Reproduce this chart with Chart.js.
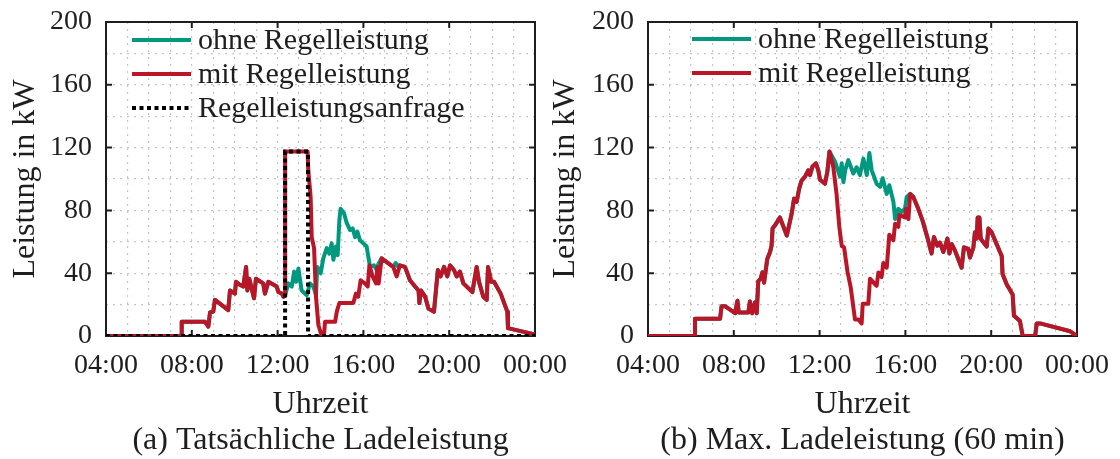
<!DOCTYPE html>
<html>
<head>
<meta charset="utf-8">
<script src="https://cdn.jsdelivr.net/npm/chart.js@4"></script>
<style>
  html, body { margin: 0; padding: 0; background: #fff; }
  #wrap { position: relative; width: 1120px; height: 459px; }
  #wrap canvas { position: absolute; left: 0; top: 0; }
</style>
</head>
<body>
<div id="wrap">
  <canvas id="chart-a" width="1120" height="459"></canvas>
  <canvas id="chart-b" width="1120" height="459"></canvas>
</div>
<script>
// axes
const hourTicks = [4, 8, 12, 16, 20, 24];
const timeLabels = ['04:00', '08:00', '12:00', '16:00', '20:00', '00:00'];
const kwTicks = [0, 40, 80, 120, 160, 200];
const legendLabels = ['ohne Regelleistung', 'mit Regelleistung', 'Regelleistungsanfrage'];

// (a) Tatsächliche Ladeleistung -- time in hours, power in kW
const aMitT = [4, 7.53, 7.53, 8.62, 8.77, 8.85, 9.0, 9.08, 9.7, 9.78, 10.01, 10.06, 10.2, 10.4, 10.53, 10.59, 10.68, 10.9, 10.99,
  11.33, 11.41, 11.57, 11.96, 12.04, 12.2, 12.27, 12.35, 12.35, 13.4, 13.43, 13.54, 13.59, 13.7, 13.79, 13.9, 14.06, 14.16,
  14.21, 14.68, 14.76, 14.88, 15.53, 15.65, 15.76, 15.87, 16.07, 16.2, 16.28, 16.43, 16.59, 16.65, 16.71, 16.85, 17.39, 17.55,
  17.7, 17.94, 18.17, 18.41, 18.57, 18.61, 18.68, 18.88, 19.03, 19.29, 19.47, 19.6, 19.76, 19.91, 20.04, 20.22, 20.35, 20.5,
  20.66, 21.08, 21.28, 21.39, 21.59, 21.75, 21.81, 21.96, 22.09, 22.4, 22.71, 22.74, 24];
const aMitP = [0, 0, 9, 9, 6, 15, 15.5, 23, 16.5, 29, 27, 34.5, 33, 31.5, 44, 29, 36.5, 24, 36.5,
  33.5, 27, 34.5, 31.5, 28, 27, 25, 26, 117.5, 117.5, 105.5, 88.5, 63, 56, 25, 7, 0, 0,
  9, 9, 15.5, 21, 21, 27, 25, 35.5, 33.5, 31.5, 45, 38, 33.5, 44, 33.5, 49.5, 44, 38,
  45, 44, 35.5, 31.5, 29, 21, 29, 25, 17.5, 15.5, 42, 38, 44, 38, 45, 42, 38, 41,
  33.5, 28, 44, 34.5, 25, 23, 44, 34.5, 34.5, 27, 15.5, 5, 1];
// ohne Regelleistung: only where it leaves the red curve, identical elsewhere
const aOhneT = [12.35, 12.5, 12.66, 12.77, 12.86, 12.97, 13.12, 13.36, 13.51, 13.67, 13.79, 13.85, 14.01, 14.13, 14.29, 14.41,
  14.52, 14.6, 14.72, 14.8, 14.88, 14.94, 15.1, 15.22, 15.38, 15.5, 15.61, 15.72, 15.84, 16.0, 16.15, 16.23, 16.31, 16.49,
  16.62, 16.7, 16.85, 17.39, 17.5, 17.6, 17.7];
const aOhneP = [26, 33.5, 31.5, 41, 34.5, 43, 29, 26, 33.5, 31.5, 26, 44, 40, 49.5, 56, 52.5,
  59, 48.5, 57, 51.5, 74, 81, 78, 72, 67.5, 68.5, 63, 66.5, 61, 59, 57, 50.5, 44, 45,
  42, 46, 49.5, 44, 46.5, 44.5, 45];
const aAnfrageT = [4, 12.35, 12.35, 13.42, 13.42, 24];
const aAnfrageP = [0, 0, 117.5, 117.5, 0, 0];

// (b) Max. Ladeleistung (60 min)
const bMitT = [4, 6.19, 6.19, 7.36, 7.43, 7.59, 8.06, 8.17, 8.23, 8.68, 8.75, 8.86, 8.99, 9.07, 9.14, 9.25, 9.33, 9.41, 9.56,
  9.69, 9.76, 9.81, 9.92, 10.15, 10.47, 10.7, 10.81, 10.93, 11.05, 11.16, 11.32, 11.47, 11.55, 11.67, 11.83, 11.94, 12.02,
  12.25, 12.36, 12.46, 12.64, 12.79, 12.92, 13.03, 13.14, 13.3, 13.45, 13.65, 13.81, 13.96, 14.01, 14.27, 14.35, 14.58,
  14.66, 14.74, 14.89, 14.97, 15.13, 15.25, 15.44, 15.52, 15.67, 15.72, 15.98, 16.03, 16.14, 16.22, 16.37, 16.6, 16.8,
  17.02, 17.22, 17.33, 17.49, 17.61, 17.77, 17.96, 18.05, 18.16, 18.31, 18.62, 18.73, 18.93, 19.01, 19.17, 19.24, 19.32,
  19.37, 19.45, 19.51, 19.79, 19.87, 20.02, 20.49, 20.53, 20.72, 21.0, 21.06, 21.34, 21.47, 22.05, 22.12, 22.28, 23.68, 24];
const bMitP = [0, 0, 11, 11, 19, 19, 14.5, 22.5, 15, 15, 22, 14.5, 21.5, 14.5, 35, 36.5, 40.5, 34, 49,
  53.5, 57.5, 68.5, 70.5, 75.5, 64, 78, 87.5, 85.5, 94, 99, 101.5, 105.5, 102.5, 108, 110, 105.5, 99.5,
  97, 104.5, 117.5, 107.5, 90.5, 69.5, 57.5, 56.5, 41, 31, 10.5, 10.5, 8, 20.5, 20.5, 36.5, 33,
  32, 40.5, 37.5, 46.5, 43.5, 64.5, 61, 71.5, 69.5, 77, 75.5, 81, 74.5, 90.5, 88.5, 81, 73.5,
  63, 52.5, 63, 57.5, 59.5, 53.5, 62, 52.5, 58.5, 54.5, 43.5, 56.5, 55.5, 50, 56.5, 66, 62,
  75.5, 75.5, 62, 57, 68.5, 66, 51, 39.5, 33, 26.5, 13, 9.5, 0, 0, 8, 8, 3, 0];
const bOhneT = [12.46, 12.72, 12.95, 13.03, 13.11, 13.2, 13.34, 13.45, 13.57, 13.73, 13.88, 14.04, 14.2, 14.32, 14.43, 14.66,
  14.82, 14.94, 15.13, 15.25, 15.44, 15.52, 15.67, 15.82, 15.98, 16.06, 16.22];
const bOhneP = [117.5, 111, 101.5, 110, 98, 106, 112, 108, 103.5, 107.5, 102.5, 113, 102.5, 116.5, 105.5, 97,
  95, 100.5, 90.5, 96, 85.5, 74.5, 81, 79, 81, 88.5, 90.5];

const serif = "'Liberation Serif', 'Times New Roman', serif";
const ink = '#1e1e1e';
const teal = '#00997f';
const red = '#bb1628';
const gridHours = Array.from({length: 21}, (_, i) => 4 + i);
const gridKw = Array.from({length: 11}, (_, i) => i * 20);

function pts(t, p) {
  return t.map((x, i) => ({x: x, y: p[i]}));
}

// red curve before and after the deviating stretch, deviating stretch in between
function ohneCurve(mitT, mitP, devT, devP) {
  const a = devT[0], b = devT[devT.length - 1];
  const head = pts(mitT, mitP).filter(q => q.x < a);
  const tail = pts(mitT, mitP).filter(q => q.x > b);
  return head.concat(pts(devT, devP), tail);
}

const boxPlugin = {
  id: 'box',
  beforeDatasetsDraw(chart) {
    const {ctx, chartArea: a} = chart;
    const x = chart.scales.x, y = chart.scales.y;
    ctx.save();
    ctx.strokeStyle = ink;
    ctx.lineWidth = 2;
    ctx.strokeRect(a.left, a.top, a.right - a.left, a.bottom - a.top);
    ctx.beginPath();
    hourTicks.forEach(h => {
      const px = x.getPixelForValue(h);
      ctx.moveTo(px, a.bottom); ctx.lineTo(px, a.bottom - 6);
      ctx.moveTo(px, a.top); ctx.lineTo(px, a.top + 6);
    });
    kwTicks.forEach(v => {
      const py = y.getPixelForValue(v);
      ctx.moveTo(a.left, py); ctx.lineTo(a.left + 6, py);
      ctx.moveTo(a.right, py); ctx.lineTo(a.right - 6, py);
    });
    ctx.stroke();
    ctx.restore();
  },
  afterDraw(chart, args, opts) {
    const {ctx, chartArea: a} = chart;
    ctx.save();
    ctx.font = '30px ' + serif;
    ctx.textBaseline = 'middle';
    ctx.fillStyle = ink;
    chart.data.datasets.forEach((ds, i) => {
      const ly = a.top + opts.top + i * opts.gap;
      const lx = a.left + opts.left;
      ctx.beginPath();
      ctx.strokeStyle = ds.borderColor;
      ctx.lineWidth = ds.borderWidth;
      ctx.setLineDash(ds.borderDash || []);
      ctx.moveTo(lx, ly); ctx.lineTo(lx + 59, ly);
      ctx.stroke();
      ctx.fillText(ds.label, lx + 66, ly + 1);
    });
    ctx.restore();
  }
};

function makeChart(id, datasets, pad, legendPos, caption) {
  return new Chart(document.getElementById(id), {
    type: 'line',
    data: {datasets: datasets},
    options: {
      responsive: false,
      animation: false,
      devicePixelRatio: 1,
      layout: {padding: {left: pad[0], right: pad[1], top: 22, bottom: 0}},
      elements: {point: {radius: 0}, line: {tension: 0, borderJoinStyle: 'round'}},
      plugins: {legend: {display: false}, tooltip: {enabled: false}, box: legendPos},
      scales: {
        x: {
          type: 'linear', min: 4, max: 24,
          afterFit(s) { s.height = 123; s.paddingLeft = 0; s.paddingRight = 0; },
          afterBuildTicks(s) { s.ticks = gridHours.map(v => ({value: v})); },
          ticks: {
            autoSkip: false, maxRotation: 0, padding: 13, color: ink,
            font: {family: serif, size: 28},
            callback: v => { const k = hourTicks.indexOf(v); return k >= 0 ? timeLabels[k] : ''; }
          },
          grid: {color: '#c6c6c6', lineWidth: 1.2, drawTicks: false},
          border: {display: false, dash: [2, 5]},
          title: {display: true, text: ['Uhrzeit', caption], color: ink,
                  font: {family: serif, size: 32, lineHeight: 1.125}, padding: {top: 0, bottom: 0}}
        },
        y: {
          min: 0, max: 200,
          afterFit(s) { s.width = pad[2]; s.paddingTop = 0; s.paddingBottom = 0; },
          afterBuildTicks(s) { s.ticks = gridKw.map(v => ({value: v})); },
          ticks: {
            autoSkip: false, padding: 14, color: ink,
            font: {family: serif, size: 28},
            callback: v => kwTicks.includes(v) ? String(v) : ''
          },
          grid: {color: '#c6c6c6', lineWidth: 1.2, drawTicks: false},
          border: {display: false, dash: [2, 5]},
          title: {display: true, text: 'Leistung in kW', color: ink,
                  font: {family: serif, size: 32}, padding: {top: 6, bottom: 0}}
        }
      }
    },
    plugins: [boxPlugin]
  });
}

const lineStyle = (label, color, data, order) => ({
  label: label, data: data, borderColor: color, borderWidth: 4, order: order, fill: false
});

makeChart('chart-a', [
  lineStyle(legendLabels[0], teal, ohneCurve(aMitT, aMitP, aOhneT, aOhneP), 2),
  lineStyle(legendLabels[1], red, pts(aMitT, aMitP), 1),
  Object.assign(lineStyle(legendLabels[2], '#000', pts(aAnfrageT, aAnfrageP), 0),
                {borderDash: [4, 3.5], borderCapStyle: 'butt', borderJoinStyle: 'miter'})
], [0, 585, 106], {left: 26, top: 18, gap: 34}, '(a) Tatsächliche Ladeleistung');

makeChart('chart-b', [
  lineStyle(legendLabels[0], teal, ohneCurve(bMitT, bMitP, bOhneT, bOhneP), 2),
  lineStyle(legendLabels[1], red, pts(bMitT, bMitP), 1)
], [540, 43, 108], {left: 44, top: 17, gap: 34}, '(b) Max. Ladeleistung (60 min)');
</script>
</body>
</html>
